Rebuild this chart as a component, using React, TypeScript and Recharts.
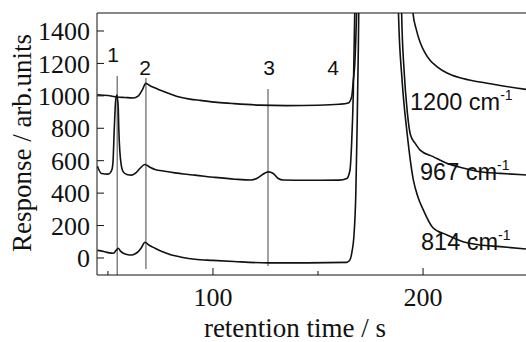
import { Line, LineChart, ReferenceLine, XAxis, YAxis } from 'recharts'

const W = 526
const H = 342
const SERIF = "'Liberation Serif', 'Times New Roman', serif"
const SANS = "'Liberation Sans', Arial, sans-serif"
const INK = '#111'

const X_DOMAIN: [number, number] = [44.8, 249]
const Y_DOMAIN: [number, number] = [-105, 1511]
const X_TICKS = [50, 100, 150, 200]
const Y_TICKS = [0, 100, 200, 300, 400, 500, 600, 700, 800, 900, 1000, 1100, 1200, 1300, 1400]

// 1200 cm-1 trace
const T_1200 = [45, 50, 54.3, 58, 62, 64.5, 66.5, 68, 70, 72.5, 75, 80, 84, 89, 94, 102, 110, 122, 135, 150, 160, 164.4, 166, 166.8, 167.6, 168.5, 170, 193, 195.2, 196.7, 198.6, 201, 203.3, 206.7, 211.4, 217.6, 227.1, 236.7, 249]
const R_1200 = [1007, 1002, 993, 990, 987, 1000, 1040, 1077, 1062, 1048, 1034, 1010, 993, 980, 972, 960, 952, 943, 940, 942, 948, 956, 993, 1095, 1218, 1600, 3000, 3000, 1511, 1413, 1330, 1263, 1219, 1179, 1141, 1111, 1085, 1064, 1040]

// 967 cm-1 trace
const T_967 = [45, 46.9, 50.1, 51.8, 52.4, 53, 53.7, 54.3, 54.9, 55.2, 56.2, 57.3, 59, 61.3, 63.3, 65.2, 67.6, 70, 72.4, 77, 81.9, 86, 91.4, 101, 110.5, 118, 120.5, 122.5, 124, 126.3, 128.7, 131.1, 133.5, 145, 160, 163.7, 165.2, 166, 166.8, 167.6, 169, 188.5, 189.8, 191, 192.5, 194, 196.2, 198.6, 204.8, 211.3, 219, 227, 236.7, 249]
const R_967 = [566, 521, 517, 541, 590, 788, 974, 1005, 930, 788, 585, 531, 515, 511, 525, 552, 577, 560, 546, 535, 525, 518, 511, 497, 486, 481, 488, 505, 518, 531, 521, 490, 481, 479, 480, 490, 541, 706, 1015, 1600, 3000, 3000, 1511, 1150, 900, 760, 708, 665, 625, 584, 555, 532, 522, 512]

// 814 cm-1 trace
const T_814 = [45, 48, 50.1, 52.5, 53.8, 54.9, 56, 57.3, 59, 61.3, 63, 64.4, 66, 67.6, 69.5, 72.4, 76, 80.3, 85, 91.4, 100, 110, 126.2, 145, 163.7, 165.2, 166.2, 167, 168, 168.6, 169.2, 169.8, 171, 187.5, 188.3, 190, 192.4, 195.4, 197.6, 200, 204.8, 211.4, 219, 227, 236.7, 249]
const R_814 = [47, 40, 33, 29, 45, 60, 42, 29, 22, 18, 26, 39, 65, 97, 80, 60, 38, 18, 5, -8, -15, -22, -30, -30, -27, -12, 40, 120, 400, 800, 1300, 2000, 3000, 3000, 1511, 1100, 770, 480, 375, 300, 185, 142, 100, 80, 70, 55]

// marker lines for peaks 1-3: time, lower and upper response
const MARK_T = [54.4, 68.1, 126.2]
const MARK_LO = [-105, -68, -49]
const MARK_HI = [1122, 1110, 1042]

const zip = (t: number[], r: number[]) => t.map((x, i) => ({ x, y: r[i] }))

const SERIES = [
  { name: '1200', data: zip(T_1200, R_1200) },
  { name: '967', data: zip(T_967, R_967) },
  { name: '814', data: zip(T_814, R_814) },
]

function YTick({ x, y, payload }: any) {
  const major = payload.value % 200 === 0
  return (
    <g>
      <line x1={x} x2={x + (major ? 7 : 4)} y1={y} y2={y} stroke={INK} />
      {major && (
        <text x={x - 7} y={y} dy="0.35em" textAnchor="end" fontFamily={SERIF} fontSize={26} fill={INK}>
          {payload.value}
        </text>
      )}
    </g>
  )
}

function XTick({ x, y, payload }: any) {
  const major = payload.value % 100 === 0
  return (
    <g>
      <line x1={x} x2={x} y1={y} y2={y - (major ? 7 : 4)} stroke={INK} />
      {major && (
        <text x={x} y={y + 31} textAnchor="middle" fontFamily={SERIF} fontSize={26} fill={INK}>
          {payload.value}
        </text>
      )}
    </g>
  )
}

function Wavenumber({ x, y, value }: { x: number; y: number; value: string }) {
  return (
    <text x={x} y={y} fontFamily={SANS} fontSize={23.5} fill={INK}>
      {value} cm
      <tspan dy={-10} fontSize={14}>
        -1
      </tspan>
    </text>
  )
}

export default function App() {
  return (
    <div style={{ position: 'absolute', left: 0, top: 0, width: W, height: H, background: '#fff' }}>
      <LineChart width={W} height={H} margin={{ top: 13, right: 0, bottom: 0, left: 0 }}>
        <XAxis
          type="number"
          dataKey="x"
          domain={X_DOMAIN}
          allowDataOverflow
          ticks={X_TICKS}
          tick={<XTick />}
          tickLine={false}
          tickSize={0}
          tickMargin={0}
          height={67}
          axisLine={{ stroke: INK }}
        />
        <YAxis
          type="number"
          dataKey="y"
          domain={Y_DOMAIN}
          allowDataOverflow
          ticks={Y_TICKS}
          tick={<YTick />}
          tickLine={false}
          tickSize={0}
          tickMargin={0}
          width={97}
          axisLine={{ stroke: INK }}
        />
        <ReferenceLine y={Y_DOMAIN[1]} stroke={INK} ifOverflow="visible" />
        {MARK_T.map((t, i) => (
          <ReferenceLine
            key={t}
            segment={[
              { x: t, y: MARK_LO[i] },
              { x: t, y: MARK_HI[i] },
            ]}
            stroke="#444"
            strokeWidth={1}
            ifOverflow="visible"
          />
        ))}
        {SERIES.map((s) => (
          <Line
            key={s.name}
            data={s.data}
            dataKey="y"
            type="monotone"
            stroke={INK}
            strokeWidth={1.6}
            dot={false}
            activeDot={false}
            isAnimationActive={false}
          />
        ))}
      </LineChart>
      <svg
        width={W}
        height={H}
        style={{ position: 'absolute', left: 0, top: 0, pointerEvents: 'none' }}
      >
        <text
          x={31}
          y={143}
          transform="rotate(-90, 31, 143)"
          textAnchor="middle"
          fontFamily={SERIF}
          fontSize={27}
          fill={INK}
        >
          Response / arb.units
        </text>
        <text x={295} y={337} textAnchor="middle" fontFamily={SERIF} fontSize={27} fill={INK}>
          retention time / s
        </text>
        <g fontFamily={SANS} fontSize={21} fill={INK} textAnchor="middle">
          <text x={113} y={62}>1</text>
          <text x={145} y={75}>2</text>
          <text x={269} y={75}>3</text>
          <text x={333} y={75}>4</text>
        </g>
        <Wavenumber x={410} y={110} value="1200" />
        <Wavenumber x={420} y={180} value="967" />
        <Wavenumber x={421} y={250} value="814" />
      </svg>
    </div>
  )
}
